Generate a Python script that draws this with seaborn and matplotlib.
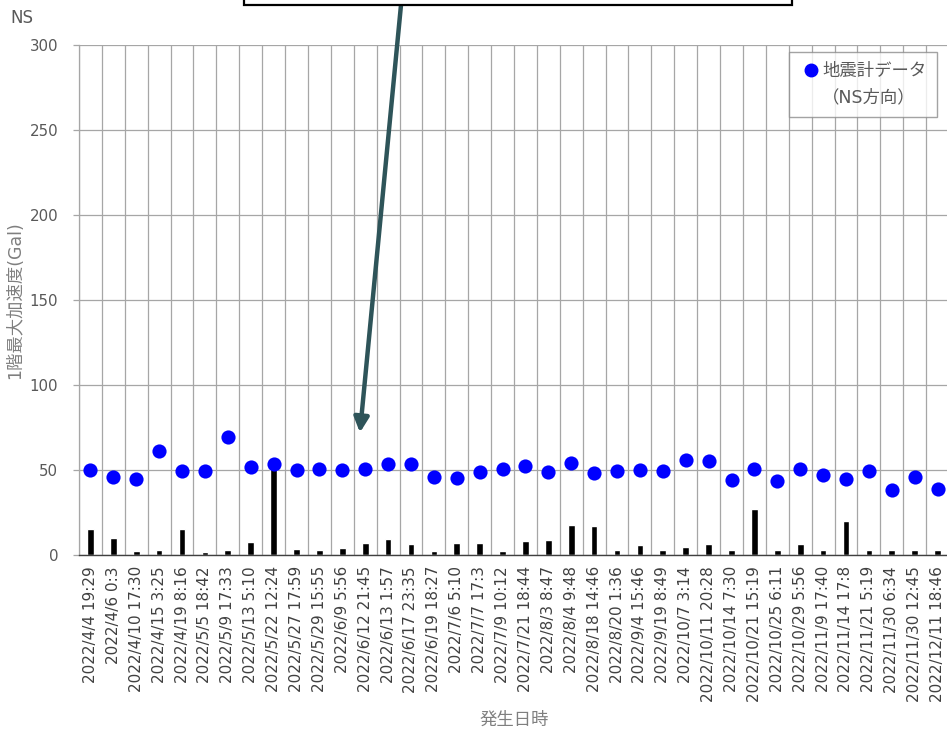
import matplotlib
matplotlib.use("Agg")
import matplotlib.pyplot as plt
from matplotlib.patches import Rectangle
from matplotlib.lines import Line2D
import seaborn as sns
import pandas as pd
import numpy as np

# Event timestamps (category axis)
events = [
    "2022/4/4 19:29", "2022/4/6 0:3", "2022/4/10 17:30", "2022/4/15 3:25",
    "2022/4/19 8:16", "2022/5/5 18:42", "2022/5/9 17:33", "2022/5/13 5:10",
    "2022/5/22 12:24", "2022/5/27 17:59", "2022/5/29 15:55", "2022/6/9 5:56",
    "2022/6/12 21:45", "2022/6/13 1:57", "2022/6/17 23:35", "2022/6/19 18:27",
    "2022/7/6 5:10", "2022/7/7 17:3", "2022/7/9 10:12", "2022/7/21 18:44",
    "2022/8/3 8:47", "2022/8/4 9:48", "2022/8/18 14:46", "2022/8/20 1:36",
    "2022/9/4 15:46", "2022/9/19 8:49", "2022/10/7 3:14", "2022/10/11 20:28",
    "2022/10/14 7:30", "2022/10/21 15:19", "2022/10/25 6:11", "2022/10/29 5:56",
    "2022/11/9 17:40", "2022/11/14 17:8", "2022/11/21 5:19", "2022/11/30 6:34",
    "2022/11/30 12:45", "2022/12/11 18:46",
]

# Seismometer readings, NS direction (Gal)
seismometer_ns = [
    50.0, 45.7, 44.5, 61.2, 49.4, 49.4, 69.6, 51.6, 53.3, 50.0,
    50.8, 50.0, 50.4, 53.3, 53.7, 45.7, 45.5, 49.0, 50.6, 52.5,
    49.0, 53.9, 48.0, 49.6, 50.0, 49.4, 55.9, 55.1, 44.1, 50.4,
    43.7, 50.6, 46.9, 44.7, 49.6, 38.4, 45.9, 38.8,
]

# Bar series (Gal)
bar_values = [
    15.1, 9.8, 2.2, 3.1, 15.1, 1.8, 3.1, 7.5, 51.0, 3.5,
    2.7, 4.1, 7.1, 9.4, 6.7, 2.2, 7.1, 7.1, 2.2, 8.0,
    8.8, 17.6, 17.1, 3.1, 5.7, 3.1, 4.9, 6.3, 2.7, 27.3,
    2.7, 6.3, 2.7, 19.8, 2.7, 2.7, 3.1, 2.7,
]

y_ticks = [0, 50, 100, 150, 200, 250, 300]

df = pd.DataFrame({"event": events, "ns": seismometer_ns, "bar": bar_values})

sns.set_theme(style="white")
plt.rcParams["font.family"] = ["DejaVu Sans", "Noto Sans CJK JP"]

W, H, DPI = 947, 730, 100
fig = plt.figure(figsize=(W / DPI, H / DPI), dpi=DPI)
ax = fig.add_axes([79 / W, 1 - 555 / H, 870 / W, 510 / H])

grid_c = "#a6a6a6"
label_c = "#595959"

sns.barplot(data=df, x="event", y="bar", color="black", width=0.29,
            saturation=1, ax=ax, zorder=2)
sns.stripplot(data=df, x="event", y="ns", jitter=False, color="#0000ff",
              size=10.2, linewidth=0, ax=ax, zorder=3)

n = len(events)
ax.set_xlim(-0.5, n - 0.5)
ax.set_ylim(0, 300)
ax.set_yticks(y_ticks)

# vertical separators between categories, horizontal grid on major y ticks
ax.set_xticks(np.arange(n) - 0.5, minor=True)
ax.grid(axis="x", which="minor", color=grid_c, linewidth=0.9, zorder=0)
ax.grid(axis="y", which="major", color=grid_c, linewidth=0.9, zorder=0)
ax.set_axisbelow(True)

ax.tick_params(axis="x", which="major", length=0, labelrotation=90,
               labelsize=11, labelcolor="#404040", pad=8)
ax.tick_params(axis="x", which="minor", length=0)
ax.tick_params(axis="y", length=4, width=0.9, color=grid_c, direction="out",
               left=True, labelsize=10.8, labelcolor=label_c, pad=11)

for s in ["top", "right"]:
    ax.spines[s].set_visible(False)
ax.spines["left"].set_color(grid_c)
ax.spines["left"].set_linewidth(0.9)
ax.spines["bottom"].set_color("#404040")
ax.spines["bottom"].set_linewidth(1.0)

ax.set_xlabel("発生日時", fontsize=12.5, color="#7f7f7f", va="center")
ax.xaxis.set_label_coords(0.5, (555 - 720) / 510)
ax.set_ylabel("1階最大加速度(Gal)", fontsize=12.5, color="#7f7f7f", va="center")
ax.yaxis.set_label_coords((15 - 79) / 870, 0.5)

fig.text(10 / W, 1 - 18 / H, "NS", fontsize=12, color=label_c,
         ha="left", va="center")

handles = [
    Line2D([], [], marker="o", color="#0000ff", linestyle="none", markersize=9),
    Line2D([], [], linestyle="none"),
]
leg = ax.legend(handles, ["地震計データ", "（NS方向）"], loc="upper left",
                bbox_to_anchor=((789 - 79) / 870, (555 - 52) / 510),
                fancybox=False, frameon=True, fontsize=12.5, labelcolor=label_c,
                handlelength=1.3, handletextpad=0.0, borderpad=0.6,
                labelspacing=0.45, borderaxespad=0)
leg.get_frame().set_edgecolor("#8c8c8c")
leg.get_frame().set_linewidth(1.0)

# callout box with pointer
box = Rectangle((244 / W, 1 - 5 / H), (792 - 244) / W, 0.2,
                transform=fig.transFigure, facecolor="white",
                edgecolor="black", linewidth=1.6, zorder=5)
fig.add_artist(box)
ax.annotate("", xy=(11.77, 72), xycoords="data",
            xytext=(401, H - 5), textcoords="figure pixels",
            arrowprops=dict(arrowstyle="-|>", color="#2e5459", lw=3.2,
                            mutation_scale=22, shrinkA=0, shrinkB=0),
            annotation_clip=False, zorder=6)

fig.savefig("out.png", dpi=DPI)
